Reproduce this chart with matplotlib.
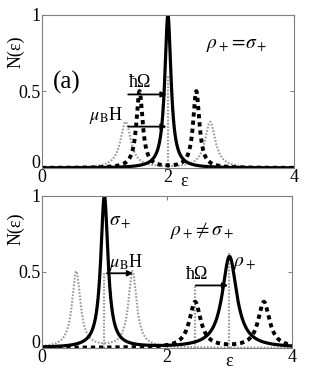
import numpy as np
import matplotlib
matplotlib.use("Agg")
import matplotlib.pyplot as plt

plt.rcParams['font.family'] = 'serif'
plt.rcParams['font.serif'] = ['Liberation Serif', 'DejaVu Serif']
plt.rcParams['mathtext.fontset'] = 'stix'

# =========================
# DATOS (centro, altura, ancho de cada pico)
# =========================
# panel (a): rho+ = sigma+
a_solid_c = [2.0]
a_solid_h = [1.0]
a_solid_w = [0.06]
a_dash_c = [1.55, 2.45]
a_dash_h = [0.5, 0.5]
a_dash_w = [0.06, 0.06]
a_dot_c = [1.33, 2.67]
a_dot_h = [0.3, 0.3]
a_dot_w = [0.1, 0.1]
a_vline_x = [2.0]
a_vline_h = [0.6]

# panel (b): rho+ != sigma+
b_solid_c = [1.0, 3.0]
b_solid_h = [1.0, 0.6]
b_solid_w = [0.07, 0.14]
b_dash_c = [2.45, 3.55]
b_dash_h = [0.3, 0.3]
b_dash_w = [0.11, 0.11]
b_dot_c = [0.55, 1.45]
b_dot_h = [0.5, 0.5]
b_dot_w = [0.08, 0.08]
b_vline_x = [1.0, 2.45, 3.0]
b_vline_h = [0.5, 0.41, 0.63]

x_ticks = [0, 2, 4]
y_ticks = [0, 0.5, 1]
y_tick_labels = ["0", "0.5", "1"]

eps = np.linspace(0, 4, 2000)


def lorentz(centers, heights, widths):
    y = np.zeros_like(eps)
    for c, h, w in zip(centers, heights, widths):
        y += h * w**2 / ((eps - c)**2 + w**2)
    return y


def style_axes(ax):
    ax.set_xlim(0, 4)
    ax.set_ylim(0, 1)
    ax.set_xticks(x_ticks)
    ax.set_yticks(y_ticks)
    ax.set_yticklabels(y_tick_labels)
    ax.tick_params(direction='in', top=True, right=True, length=3,
                   color='0.5', labelsize=13, pad=1)
    # el "0" del eje y queda un poco mas arriba, como en la figura original
    ax.get_yticklabels()[0].set_va('baseline')
    for s in ax.spines.values():
        s.set_color('0.5')
        s.set_linewidth(0.8)


def arrow(ax, x0, x1, y):
    ax.annotate('', xy=(x1, y), xytext=(x0, y),
                arrowprops=dict(arrowstyle='-|>', color='k', lw=1.3,
                                mutation_scale=8, shrinkA=0, shrinkB=0))


fig = plt.figure(figsize=(3.27, 3.70), dpi=100)
ax1 = fig.add_axes([0.128, 0.546, 0.771, 0.414])
ax2 = fig.add_axes([0.128, 0.060, 0.765, 0.411])

# =========================
# PANEL (a)
# =========================
ax1.plot(eps, lorentz(a_dot_c, a_dot_h, a_dot_w), color='0.6', ls=(0, (0.8, 0.8)), lw=1.5)
ax1.vlines(a_vline_x, 0, a_vline_h, color='0.6', ls=(0, (0.8, 0.8)), lw=1.5)
ax1.plot(eps, lorentz(a_dash_c, a_dash_h, a_dash_w), color='k', ls=(0, (1.1, 1.0)), lw=2.8)
ax1.plot(eps, lorentz(a_solid_c, a_solid_h, a_solid_w), color='k', lw=2.3)
arrow(ax1, 1.37, 1.98, 0.48)
arrow(ax1, 1.37, 1.98, 0.27)
style_axes(ax1)
ax1.text(1.38, 0.53, 'ħΩ', fontsize=13)
ax1.text(0.75, 0.31, r'$\mu_{\rm B}$H', fontsize=13)
ax1.text(0.18, 0.52, '(a)', fontsize=18)
ax1.text(2.6, 0.78, r'$\rho_+\!=\!\sigma_+$', fontsize=14)
ax1.text(2.25, -0.035, 'ε', fontsize=13, ha='center', va='top')
ax1.text(-0.42, 0.76, 'N(ε)', fontsize=13, rotation=90, ha='center', va='center')

# =========================
# PANEL (b)
# =========================
ax2.plot(eps, lorentz(b_dot_c, b_dot_h, b_dot_w), color='0.6', ls=(0, (0.8, 0.8)), lw=1.5)
ax2.vlines(b_vline_x, 0, b_vline_h, color='0.6', ls=(0, (0.8, 0.8)), lw=1.5)
ax2.plot(eps, lorentz(b_dash_c, b_dash_h, b_dash_w), color='k', ls=(0, (1.1, 1.0)), lw=2.8)
ax2.plot(eps, lorentz(b_solid_c, b_solid_h, b_solid_w), color='k', lw=2.3)
arrow(ax2, 1.04, 1.46, 0.49)
arrow(ax2, 2.46, 2.98, 0.41)
style_axes(ax2)
ax2.text(1.07, 0.8, r'$\sigma_+$', fontsize=14)
ax2.text(1.07, 0.53, r'$\mu_{\rm B}$H', fontsize=13)
ax2.text(2.3, 0.45, 'ħΩ', fontsize=13)
ax2.text(2.05, 0.74, r'$\rho_+\!\neq\sigma_+$', fontsize=14)
ax2.text(3.05, 0.54, r'$\rho_+$', fontsize=14)
ax2.text(3.0, -0.035, 'ε', fontsize=13, ha='center', va='top')
ax2.text(-0.42, 0.78, 'N(ε)', fontsize=13, rotation=90, ha='center', va='center')

plt.savefig("out.png", dpi=100)
